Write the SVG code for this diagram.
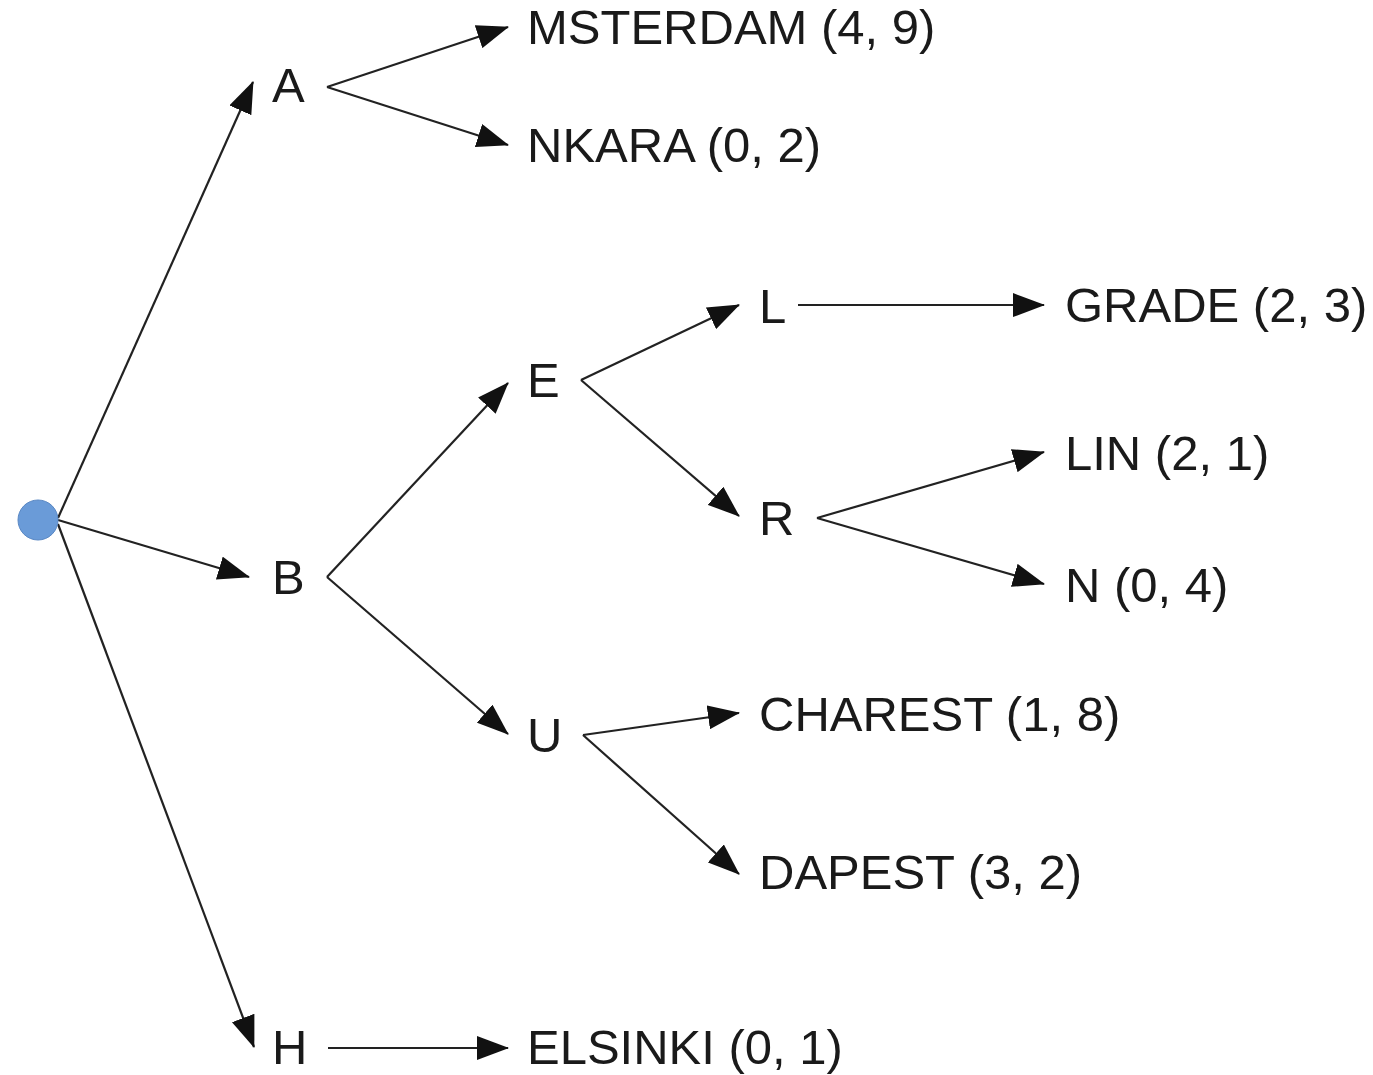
<svg xmlns="http://www.w3.org/2000/svg" width="1373" height="1075" viewBox="0 0 1373 1075">
<defs>
<marker id="ah" markerUnits="userSpaceOnUse" markerWidth="32" markerHeight="24" refX="31" refY="12" orient="auto">
<path d="M0,0 L32,12 L0,24 Z" fill="#111"/>
</marker>
<style>
.t{font-family:"Liberation Sans",Arial,sans-serif;font-size:49px;fill:#1a1a1a}
.c{stroke:#222;stroke-width:2.2;fill:none;marker-end:url(#ah)}
</style>
</defs>
<rect width="1373" height="1075" fill="#fff"/>
<g id="connectors">
<line class="c" x1="58" y1="518" x2="253" y2="82"/>
<line class="c" x1="58" y1="520" x2="249" y2="577"/>
<line class="c" x1="58" y1="524" x2="254" y2="1047"/>
<line class="c" x1="327" y1="87" x2="508" y2="27"/>
<line class="c" x1="327" y1="87" x2="508" y2="145"/>
<line class="c" x1="327" y1="577" x2="508" y2="383"/>
<line class="c" x1="327" y1="577" x2="508" y2="734"/>
<line class="c" x1="581" y1="380" x2="739" y2="305"/>
<line class="c" x1="581" y1="380" x2="739" y2="516"/>
<line class="c" x1="798" y1="305" x2="1044" y2="305"/>
<line class="c" x1="817" y1="518" x2="1044" y2="452"/>
<line class="c" x1="817" y1="518" x2="1044" y2="584"/>
<line class="c" x1="583" y1="735" x2="739" y2="713"/>
<line class="c" x1="583" y1="735" x2="739" y2="874"/>
<line class="c" x1="328" y1="1048" x2="508" y2="1048"/>
</g>
<g id="root"><circle cx="38" cy="520" r="20" fill="#6a9bd8" stroke="#5a88c4" stroke-width="1"/></g>
<g id="A"><text class="t" x="272" y="102">A</text></g>
<g id="B"><text class="t" x="272" y="594">B</text></g>
<g id="H"><text class="t" x="272" y="1064">H</text></g>
<g id="E"><text class="t" x="527" y="397">E</text></g>
<g id="U"><text class="t" x="527" y="752">U</text></g>
<g id="L"><text class="t" x="759" y="323">L</text></g>
<g id="R"><text class="t" x="759" y="535">R</text></g>
<g id="MSTERDAM"><text class="t" x="527" y="44">MSTERDAM (4, 9)</text></g>
<g id="NKARA"><text class="t" x="527" y="162">NKARA (0, 2)</text></g>
<g id="GRADE"><text class="t" x="1065" y="322">GRADE (2, 3)</text></g>
<g id="LIN"><text class="t" x="1065" y="470">LIN (2, 1)</text></g>
<g id="N"><text class="t" x="1065" y="602">N (0, 4)</text></g>
<g id="CHAREST"><text class="t" x="759" y="731">CHAREST (1, 8)</text></g>
<g id="DAPEST"><text class="t" x="759" y="889">DAPEST (3, 2)</text></g>
<g id="ELSINKI"><text class="t" x="527" y="1064">ELSINKI (0, 1)</text></g>
</svg>
